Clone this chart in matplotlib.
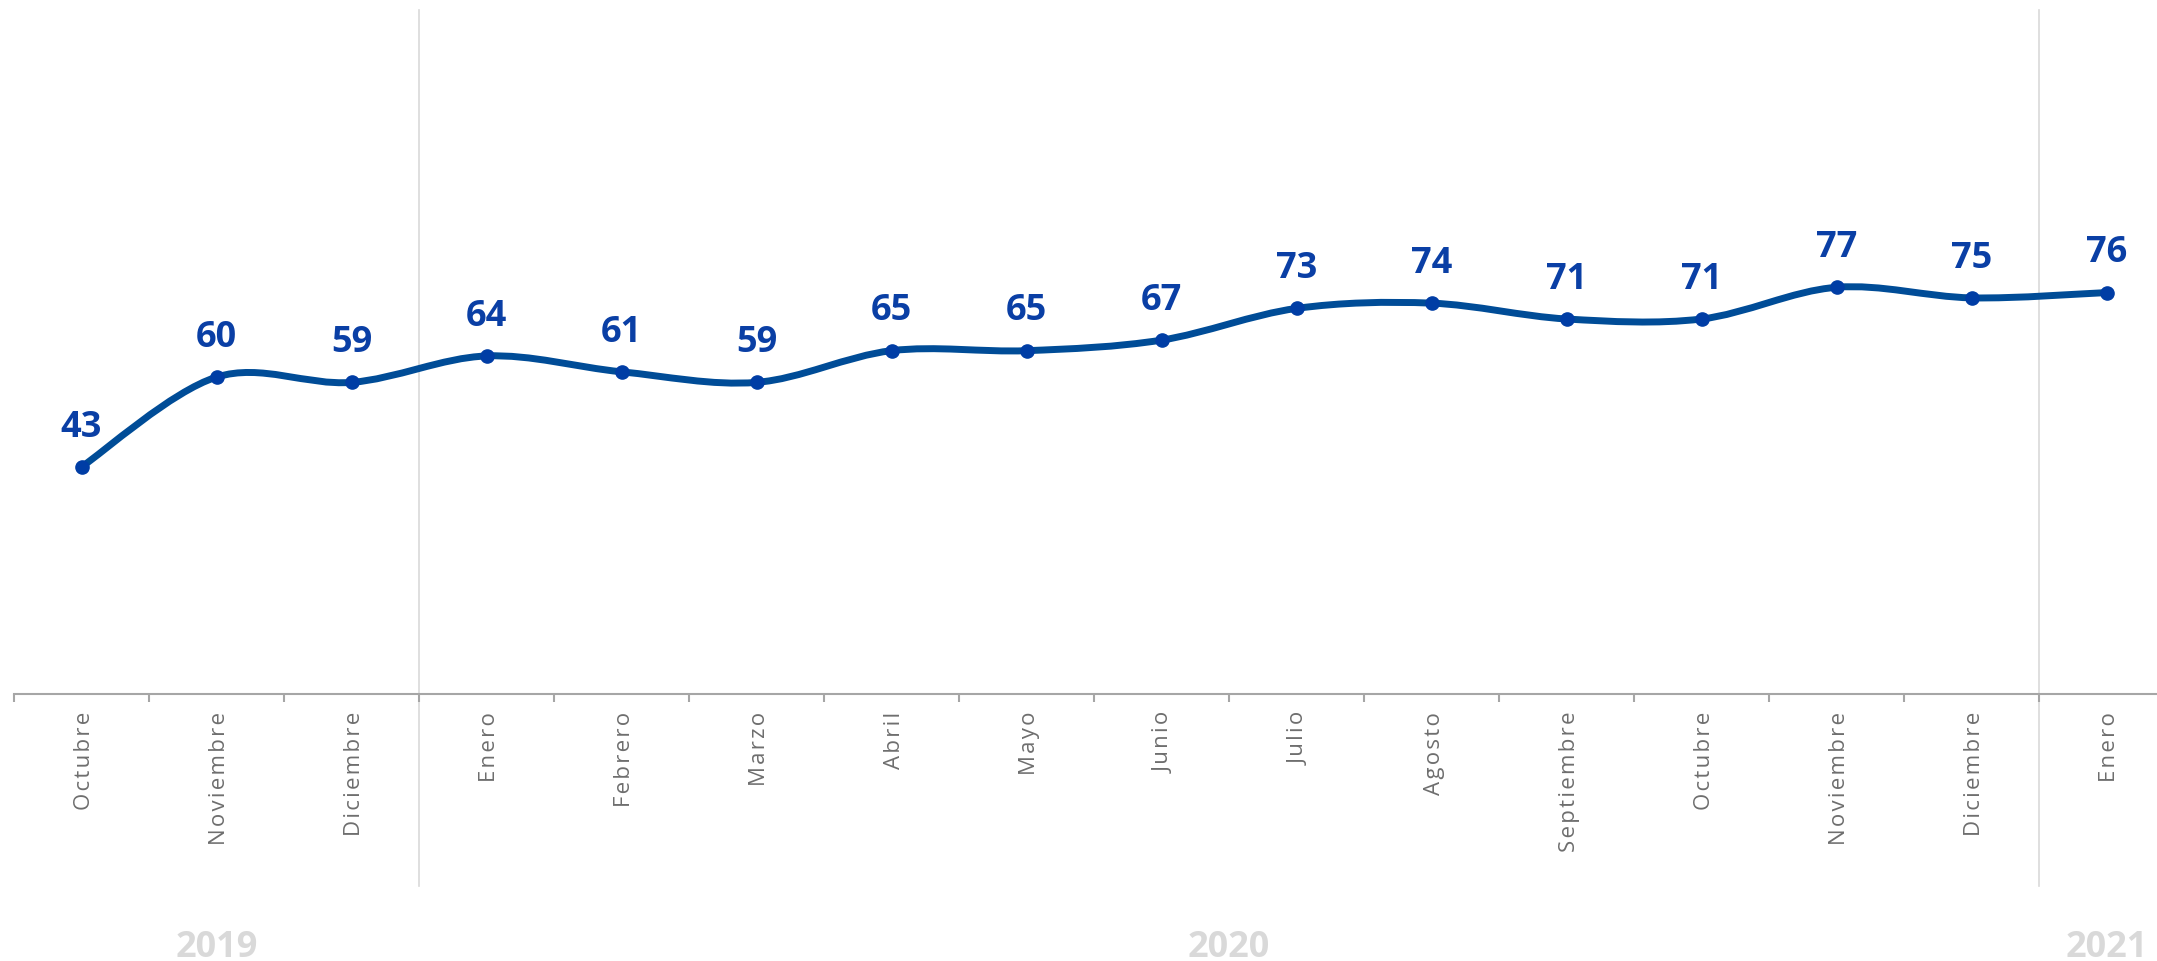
import matplotlib
matplotlib.use("Agg")
import matplotlib.pyplot as plt
import matplotlib.transforms as mtransforms
from matplotlib.path import Path
from matplotlib.patches import PathPatch
import numpy as np

# ==============================================================
# DATOS
# ==============================================================
MESES = ["Octubre", "Noviembre", "Diciembre", "Enero", "Febrero", "Marzo",
         "Abril", "Mayo", "Junio", "Julio", "Agosto", "Septiembre",
         "Octubre", "Noviembre", "Diciembre", "Enero"]
VALORES = [43, 60, 59, 64, 61, 59, 65, 65, 67, 73, 74, 71, 71, 77, 75, 76]
ANIOS = ["2019", "2020", "2021"]
ANIO_CENTRO = [1, 8.5, 15]
SEPARADORES = [2.5, 14.5]

COLOR_LINEA = "#004C97"
COLOR_PUNTO = "#003DA5"
COLOR_ETIQ = "#0A3FA5"
GRIS_EJE = "#A6A6A6"
GRIS_TXT = "#6E6E6E"
GRIS_ANIO = "#D9D9D9"

W, H = 2157, 962


def curva_suave(x, y):
    # bezier tipo Excel (Catmull-Rom)
    pts = np.column_stack([x, y]).astype(float)
    n = len(pts)
    verts = [pts[0]]
    codes = [Path.MOVETO]
    for i in range(n - 1):
        p0 = pts[i - 1] if i > 0 else pts[i]
        p1 = pts[i]
        p2 = pts[i + 1]
        p3 = pts[i + 2] if i + 2 < n else pts[i + 1]
        c1 = p1 + (p2 - p0) / 6.0
        c2 = p2 - (p3 - p1) / 6.0
        verts += [c1, c2, p2]
        codes += [Path.CURVE4] * 3
    return Path(verts, codes)


def espaciar(txt):
    # espaciado entre letras como en el original
    return "\u200a".join(txt)


fig = plt.figure(figsize=(W / 100, H / 100), dpi=100)
ax = fig.add_axes([14 / W, (H - 695) / H, 2160 / W, (695 - 11) / H])

x = np.arange(len(VALORES))
ax.set_xlim(-0.5, len(VALORES) - 0.5)
ax.set_ylim(0, 129.5)

patch = PathPatch(curva_suave(x, VALORES), facecolor="none",
                  edgecolor=COLOR_LINEA, lw=5, capstyle="round", zorder=3)
ax.add_patch(patch)
ax.plot(x, VALORES, "o", color=COLOR_PUNTO, ms=9.5, zorder=4)

for xi, v in zip(x, VALORES):
    ax.annotate(str(v), (xi, v), xytext=(0, 22.5), textcoords="offset points",
                ha="center", va="baseline", fontsize=26, fontweight="bold",
                family="Open Sans", color=COLOR_ETIQ, zorder=5)

# separadores de año
trans = mtransforms.blended_transform_factory(ax.transData, ax.transAxes)
y_bajo = (695 - 887) / (695 - 11)
for s in SEPARADORES:
    ax.plot([s, s], [y_bajo, 1], color=GRIS_ANIO, lw=1.2, transform=trans,
            clip_on=False, zorder=1)

for sp in ["top", "right", "left"]:
    ax.spines[sp].set_visible(False)
ax.spines["bottom"].set_color(GRIS_EJE)
ax.spines["bottom"].set_linewidth(1.5)
ax.set_yticks([])

ax.set_xticks(x)
ax.set_xticklabels([espaciar(m) for m in MESES], rotation=90, fontsize=16,
                   family=["Open Sans", "DejaVu Sans"],
                   color=GRIS_TXT, va="top", ha="center")
ax.tick_params(axis="x", which="major", length=0, pad=12)
ax.set_xticks(np.arange(-0.5, len(VALORES), 1), minor=True)
ax.tick_params(axis="x", which="minor", length=5.5, width=1.5, color=GRIS_EJE,
               direction="out")

# correr un poco las etiquetas a la derecha
desplaz = mtransforms.ScaledTranslation(3 / 100, 0, fig.dpi_scale_trans)
for lab in ax.get_xticklabels():
    lab.set_transform(lab.get_transform() + desplaz)

for nombre, cx in zip(ANIOS, ANIO_CENTRO):
    ax.text(cx, -(957 - 695) / (695 - 11), nombre, transform=trans,
            ha="center", va="baseline", fontsize=26, fontweight="bold",
            family="Open Sans", color=GRIS_ANIO, clip_on=False)

fig.savefig("out.png", dpi=100)
